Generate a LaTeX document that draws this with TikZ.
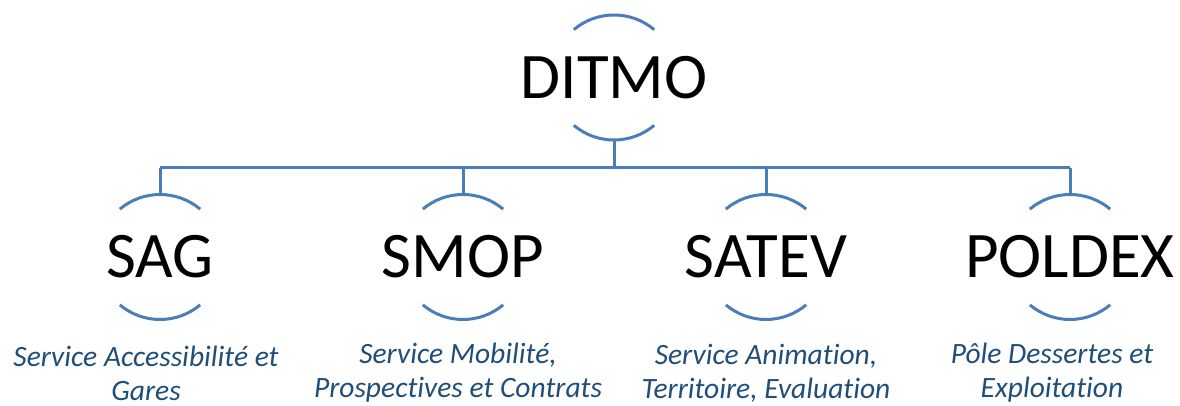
\documentclass[tikz,border=0pt]{standalone}
\usepackage{fontspec}
\setmainfont{Carlito}[Ligatures=NoCommon]
\definecolor{arcblue}{RGB}{74,126,187}
\definecolor{descblue}{RGB}{31,78,121}
\tikzset{
  unit/.style={circle, minimum size=125pt, inner sep=0pt, outer sep=0pt,
    label={[font=\fontsize{65}{70}\selectfont, text=black]center:#1}},
  rim/.style={draw=arcblue, line width=3pt},
  link/.style={draw=arcblue, line width=3pt},
  desc/.style={align=center, text=descblue,
    font=\fontsize{29.5}{34}\selectfont\itshape},
}
\newcommand{\halfrims}[1]{%
  \draw[rim] (#1.50) arc[start angle=50, end angle=130, radius=62.5pt];
  \draw[rim] (#1.230) arc[start angle=230, end angle=310, radius=62.5pt];
}
\begin{document}
\begin{tikzpicture}[x=1pt, y=1pt]
  \useasboundingbox (0,0) rectangle (1180,406);

  % head of the directorate
  \node[unit=DITMO] (ditmo) at (614,328.5) {};

  % departments
  \node[unit=SAG]    (sag)    at (160,149) {};
  \node[unit=SMOP]   (smop)   at (463,149) {};
  \node[unit=SATEV]  (satev)  at (766,149) {};
  \node[unit=POLDEX] (poldex) at (1070,149) {};

  \halfrims{ditmo}
  \halfrims{sag}
  \halfrims{smop}
  \halfrims{satev}
  \halfrims{poldex}

  % distribution bus
  \coordinate (bus) at (0,238);
  \draw[link] (ditmo.south) -- (ditmo.south |- bus);
  \draw[link] (sag.north |- bus) -- (poldex.north |- bus);
  \foreach \n in {sag,smop,satev,poldex}
    \draw[link] (\n.north) -- (\n.north |- bus);

  % full names
  \node[desc] (dsag)    at (146,33) {Service Accessibilité et\\Gares};
  \node[desc] (dsmop)   at (458,33) {Service Mobilité,\\Prospectives et Contrats};
  \node[desc] (dsatev)  at (766,33) {Service Animation,\\Territoire, Evaluation};
  \node[desc] (dpoldex) at (1052,33) {Pôle Dessertes et\\Exploitation};
\end{tikzpicture}
\end{document}
